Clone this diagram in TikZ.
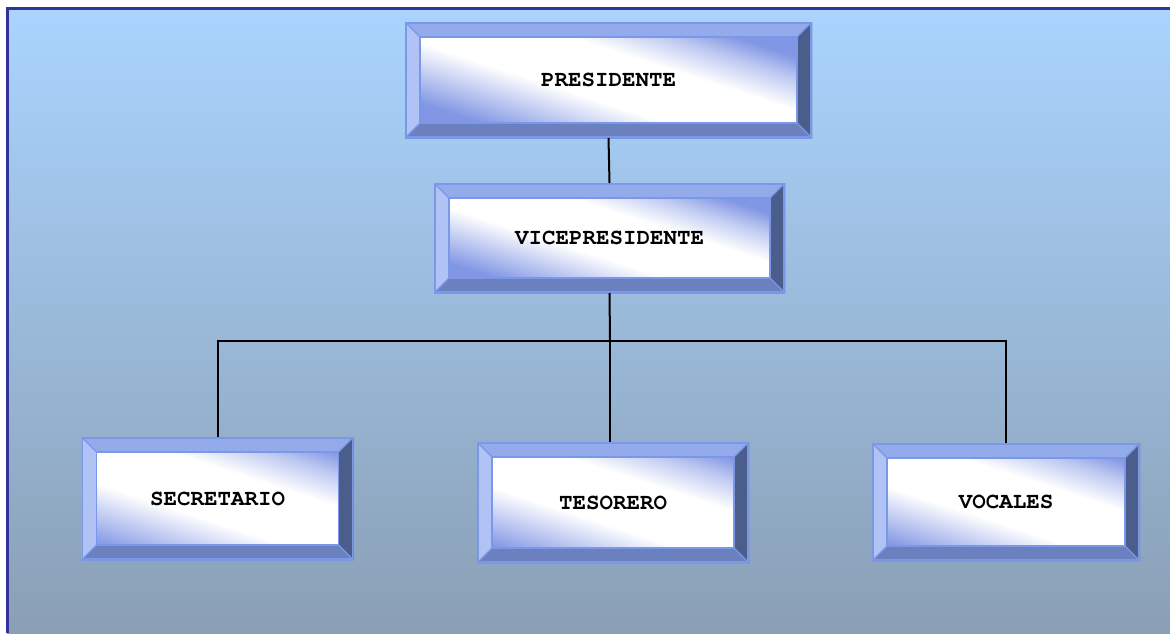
\documentclass[tikz,border=0pt]{standalone}
\usepackage{fontspec}
\newfontfamily\courfont{texgyrecursor}[Extension=.otf,UprightFont=*-regular,BoldFont=*-bold]
\usetikzlibrary{calc}
\definecolor{bgtop}{HTML}{AAD4FE}
\definecolor{bgbot}{HTML}{8A9FB5}
\definecolor{frameblue}{HTML}{333399}
\definecolor{bvtop}{HTML}{93ABEB}
\definecolor{bvleft}{HTML}{B0C3F4}
\definecolor{bvbot}{HTML}{6A80BF}
\definecolor{bvright}{HTML}{4B5D8B}
\definecolor{bvline}{HTML}{7A97E8}
\definecolor{innerblue}{HTML}{8196E4}
\colorlet{innermid}{innerblue!50!white}
\tikzset{
  bevelbox/.style 2 args={
    inner sep=0pt, outer sep=0pt,
    font=\courfont\bfseries\fontsize{11.25}{13}\selectfont,
    path picture={
      \coordinate (NW) at (path picture bounding box.north west);
      \coordinate (NE) at (path picture bounding box.north east);
      \coordinate (SW) at (path picture bounding box.south west);
      \coordinate (SE) at (path picture bounding box.south east);
      \coordinate (nw) at ([xshift=7.5pt,yshift=-7.5pt]NW);
      \coordinate (ne) at ([xshift=-7.5pt,yshift=-7.5pt]NE);
      \coordinate (sw) at ([xshift=7.5pt,yshift=7.5pt]SW);
      \coordinate (se) at ([xshift=-7.5pt,yshift=7.5pt]SE);
      \fill[bvtop] (NW) -- (NE) -- (ne) -- (nw) -- cycle;
      \fill[bvleft] (NW) -- (nw) -- (sw) -- (SW) -- cycle;
      \fill[bvbot] (SW) -- (sw) -- (se) -- (SE) -- cycle;
      \fill[bvright] (NE) -- (SE) -- (se) -- (ne) -- cycle;
      \shade[shading=#1, shading angle=#2] (nw) rectangle (se);
      \draw[bvline, line width=0.9pt] (nw) rectangle (se);
      \draw[bvline, line width=0.6pt] (NW) -- (nw) (NE) -- (ne) (SW) -- (sw) (SE) -- (se);
      \draw[bvline, line width=1.6pt] (NW) rectangle (SE);
    }
  },
  conn/.style={line width=1pt, black}
}
% #1 name, #2 cx, #3 cy, #4 width px, #5 height px, #6 text
\newcommand\bevelnode[6]{%
  \pgfmathsetmacro\bvw{(#4-30)/100}\pgfmathsetmacro\bvh{(#5-30)/100}%
  \pgfmathsetmacro\bvf{(0.309*\bvw+0.951*\bvh)/sqrt(\bvw*\bvw+\bvh*\bvh)}%
  \pgfmathsetmacro\bva{50-50*\bvf}%
  \pgfmathsetmacro\bvb{50-50*\bvf*0.64}%
  \pgfmathsetmacro\bvc{50-50*\bvf*0.28}%
  \pgfmathsetmacro\bvd{50+50*\bvf*0.36}%
  \pgfmathsetmacro\bve{50+50*\bvf*0.72}%
  \pgfmathsetmacro\bvg{50+50*\bvf}%
  \pgfdeclarehorizontalshading{bev#1}{100bp}{color(0bp)=(innerblue); color(\bva bp)=(innerblue); color(\bvb bp)=(innermid); color(\bvc bp)=(white); color(\bvd bp)=(white); color(\bve bp)=(innermid); color(\bvg bp)=(innerblue); color(100bp)=(innerblue)}%
  \node[bevelbox={bev#1}{72}, minimum width={#4*0.5pt}, minimum height={#5*0.5pt}] (#1) at (#2,#3) {#6};%
}
\begin{document}
\begin{tikzpicture}[x=0.5pt, y=-0.5pt]
  \useasboundingbox (0,0) rectangle (1170,633);
  \fill[white] (0,0) rectangle (1170,633);
  \shade[top color=bgtop, bottom color=bgbot] (7,8) rectangle (1170,633);
  \draw[frameblue, line width=1.2pt] (7.5,633) -- (7.5,8.5) -- (1170,8.5);

  \bevelnode{pres}{608.5}{80}{407}{116}{PRESIDENTE}
  \bevelnode{vice}{609.5}{238}{351}{110}{VICEPRESIDENTE}
  \bevelnode{sec}{217.5}{498.5}{272}{123}{SECRETARIO}
  \bevelnode{tes}{613}{502.5}{272}{121}{TESORERO}
  \bevelnode{voc}{1006}{502}{268}{118}{VOCALES}

  \coordinate (j) at (610,341);
  \draw[conn] (pres.south) -- (vice.north);
  \draw[conn] (vice.south) -- (j);
  \draw[conn] (j) -- (j |- tes.north);
  \draw[conn] (sec.north) |- (j);
  \draw[conn] (j) -| (voc.north);
\end{tikzpicture}
\end{document}
